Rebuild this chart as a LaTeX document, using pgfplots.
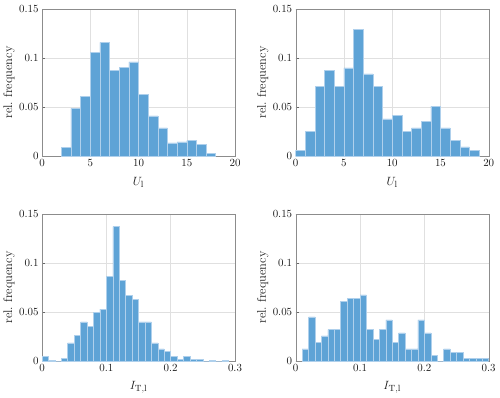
\documentclass[border=0pt]{standalone}
\usepackage{pgfplots}
\pgfplotsset{compat=1.18}
\definecolor{barblue}{RGB}{94,163,214}
\definecolor{baredge}{RGB}{175,208,236}
\pgfplotsset{
  histax/.style={
    scale only axis, width=193bp, height=147bp, anchor=south west,
    ymin=0, ymax=0.15, ytick={0,0.05,0.1,0.15},
    yticklabel style={/pgf/number format/fixed,/pgf/number format/precision=2},
    xticklabel style={/pgf/number format/fixed,/pgf/number format/precision=2},
    axis line style={black!45}, tick style={black!60},
    tick align=inside, major tick length=3bp,
    xtick pos=bottom, ytick pos=left,
    grid=major, grid style={black!12},
    tick label style={font=\fontsize{10.5}{12}\selectfont, black!90},
    label style={font=\fontsize{12.5}{14}\selectfont, black!90},
    ylabel={rel.\ frequency},
    ylabel style={at={(rel axis cs:-0.171,0.5)}, anchor=center},
    xlabel style={at={(rel axis cs:0.5,-0.177)}, anchor=center},
  },
  histbar/.style={ybar interval, fill=barblue, draw=baredge, line width=0.5pt},
}
\begin{document}
\begin{tikzpicture}[x=1bp,y=1bp]
\useasboundingbox (0,0) rectangle (500,397);
% (a)
\begin{axis}[histax, at={(42bp,241bp)}, xmin=0, xmax=20, xtick={0,5,...,20}, xlabel={$U_{\mathrm{l}}$}]
\addplot[histbar] table {
x y
2 0.0085
3 0.0486
4 0.061
5 0.106
6 0.116
7 0.087
8 0.0905
9 0.096
10 0.063
11 0.041
12 0.0286
13 0.0133
14 0.0143
15 0.016
16 0.0119
17 0.003
18 0
};
\node[anchor=west, font=\fontsize{12}{14}\selectfont] at (rel axis cs:-0.16,-0.177) {(a)};
\end{axis}
% (b)
\begin{axis}[histax, at={(295.7bp,241bp)}, xmin=0, xmax=20, xtick={0,5,...,20}, xlabel={$U_{\mathrm{l}}$}]
\addplot[histbar] table {
x y
0 0.0058
1 0.025
2 0.0707
3 0.087
4 0.0707
5 0.090
6 0.129
7 0.0837
8 0.0707
9 0.038
10 0.0415
11 0.0255
12 0.0286
13 0.035
14 0.051
15 0.0286
16 0.0156
17 0.0092
18 0.0058
19 0
};
\node[anchor=west, font=\fontsize{12}{14}\selectfont] at (rel axis cs:-0.16,-0.177) {(b)};
\end{axis}
% (c)
\begin{axis}[histax, at={(42bp,36bp)}, xmin=0, xmax=0.3, xtick={0,0.1,0.2,0.3}, xlabel={$I_{\mathrm{T,l}}$}]
\addplot[histbar] table {
x y
0.00 0.0044
0.01 0.001
0.02 0
0.03 0.003
0.04 0.0184
0.05 0.026
0.06 0.040
0.07 0.035
0.08 0.050
0.09 0.053
0.10 0.086
0.11 0.137
0.12 0.0825
0.13 0.067
0.14 0.063
0.15 0.040
0.16 0.040
0.17 0.0184
0.18 0.0123
0.19 0.010
0.20 0.005
0.21 0.002
0.22 0.0048
0.23 0.002
0.24 0.002
0.25 0
0.26 0.001
0.27 0
0.28 0.001
0.29 0
};
\node[anchor=west, font=\fontsize{12}{14}\selectfont] at (rel axis cs:-0.16,-0.177) {(c)};
\end{axis}
% (d)
\begin{axis}[histax, at={(295.7bp,36bp)}, xmin=0, xmax=0.3, xtick={0,0.1,0.2,0.3}, xlabel={$I_{\mathrm{T,l}}$}]
\addplot[histbar] table {
x y
0.01 0.0123
0.02 0.045
0.03 0.0187
0.04 0.0256
0.05 0.032
0.06 0.032
0.07 0.061
0.08 0.064
0.09 0.064
0.10 0.0675
0.11 0.032
0.12 0.022
0.13 0.032
0.14 0.042
0.15 0.0187
0.16 0.0286
0.17 0.0123
0.18 0.0123
0.19 0.042
0.20 0.0286
0.21 0.006
0.22 0
0.23 0.0123
0.24 0.009
0.25 0.009
0.26 0.003
0.27 0.003
0.28 0.003
0.29 0.003
0.30 0
};
\node[anchor=west, font=\fontsize{12}{14}\selectfont] at (rel axis cs:-0.16,-0.177) {(d)};
\end{axis}
\end{tikzpicture}
\end{document}
